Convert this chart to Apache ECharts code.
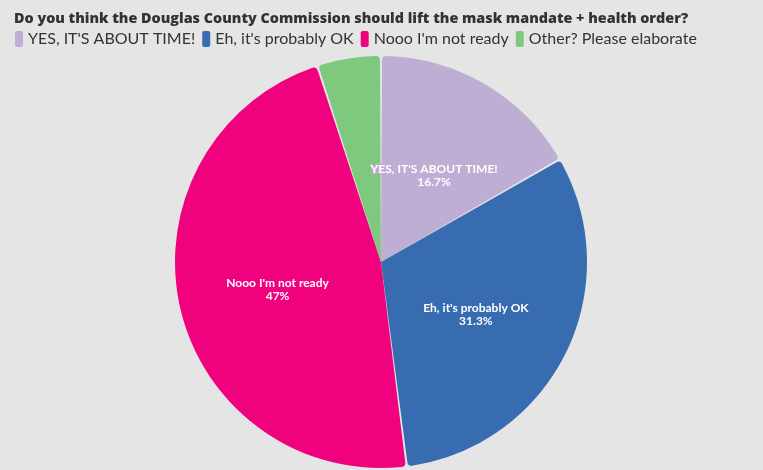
<!DOCTYPE html>
<html><head><meta charset="utf-8">
<script src="https://cdn.jsdelivr.net/npm/echarts@6/dist/echarts.min.js"></script>
<style>html,body{margin:0;padding:0;background:#e5e5e5}#c{width:763px;height:470px}</style>
</head><body><div id="c"></div>
<script>
const categories = ["YES, IT'S ABOUT TIME!", "Eh, it's probably OK", "Nooo I'm not ready", "Other? Please elaborate"];
const values = [16.7, 31.3, 47, 5];
const colors = ["#beaed4", "#386cb0", "#f0027f", "#7fc97f"];
const showLabel = [true, true, true, false];

const chart = echarts.init(document.getElementById('c'));
chart.setOption({
  backgroundColor: '#e5e5e5',
  textStyle: { fontFamily: 'Lato' },
  title: {
    text: 'Do you think the Douglas County Commission should lift the mask mandate + health order?',
    left: 9, top: 7,
    textStyle: { fontFamily: 'Open Sans', fontSize: 14.35, fontWeight: 800, color: '#333' }
  },
  legend: {
    left: 10, top: 26,
    icon: 'roundRect', itemWidth: 8, itemHeight: 16, itemGap: 7,
    textStyle: { fontFamily: 'Lato', fontSize: 16, color: '#333' },
    data: categories
  },
  series: [{
    type: 'pie',
    center: [381, 262], radius: [0, 206],
    startAngle: 90, clockwise: true,
    padAngle: 0.6,
    itemStyle: { borderRadius: 4 },
    label: {
      position: 'inside', color: '#fff', fontFamily: 'Lato', fontWeight: 'bold', fontSize: 12, lineHeight: 13,
      textBorderWidth: 3, offset: [0, 5],
      formatter: p => p.name + '\n' + p.value + '%'
    },
    labelLine: { show: false },
    data: categories.map((n, i) => ({
      name: n, value: values[i],
      itemStyle: { color: colors[i] },
      label: { show: showLabel[i], textBorderColor: colors[i] }
    }))
  }]
});
</script></body></html>
